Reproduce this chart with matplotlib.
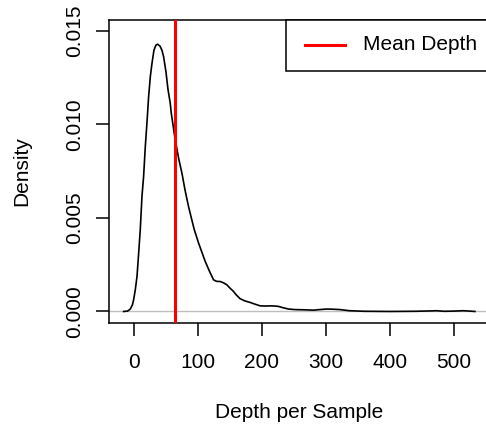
import matplotlib
matplotlib.use("Agg")
import matplotlib.pyplot as plt
from matplotlib.patches import Rectangle
from matplotlib.lines import Line2D

plt.rcParams['font.family'] = ['Liberation Sans', 'DejaVu Sans']

# Density curve
depth = [-16.2, -10.0, -5.8, -2.5, -0.6, 2.0, 4.7, 6.2, 9.8, 12.45, 15.0, 17.66,
         20.2, 22.86, 25.5, 28.1, 31.2, 34.3, 36.9, 40.6, 43.7, 46.3, 50.0, 53.0,
         56.7, 58.3, 64.5, 70.0, 75.0, 80.0, 85.3, 94.0, 101.0, 111.4, 118.0,
         124.4, 129.0, 134.8, 140.0, 145.3, 150.0, 155.6, 160.0, 166.0, 173.0,
         181.7, 190.0, 197.3, 205.0, 213.0, 220.0, 226.0, 233.0, 241.6, 252.0,
         265.0, 280.6, 290.0, 301.5, 312.0, 322.0, 337.0, 360.0, 400.0, 440.0,
         465.0, 473.0, 485.0, 500.0, 514.6, 525.0, 533.0]
density = [0.0, 0.00002, 0.00013, 0.00035, 0.00062, 0.00115, 0.00187, 0.00258,
           0.00436, 0.00614, 0.0072, 0.0088, 0.01005, 0.01147, 0.01254, 0.01325,
           0.01396, 0.01423, 0.01428, 0.01418, 0.01396, 0.01361, 0.0128, 0.0119,
           0.01112, 0.01059, 0.00916, 0.00815, 0.00738, 0.00645, 0.0056, 0.0044,
           0.00365, 0.00267, 0.00215, 0.00169, 0.00161, 0.0016, 0.00153, 0.00142,
           0.00125, 0.00107, 0.00088, 0.00068, 0.00057, 0.00048, 0.00038, 0.0003,
           0.00029, 0.0003, 0.00029, 0.00027, 0.0002, 0.00013, 0.0001, 0.00009,
           0.00007, 0.0001, 0.00013, 0.00012, 0.0001, 0.00004, 0.00001, 0.0,
           0.00001, 0.00003, 0.00004, 0.00001, 0.00002, 0.00004, 0.00002, 0.0]
mean_depth = 64.0
legend_label = "Mean Depth"
x_ticks = [0, 100, 200, 300, 400, 500]
y_ticks = [0.000, 0.005, 0.010, 0.015]
y_tick_labels = ["0.000", "0.005", "0.010", "0.015"]

W, H = 486, 430
fig = plt.figure(figsize=(W / 100, H / 100), dpi=100)
L, R, T, B = 109.3, 489.0, 19.5, 322.7
ax = fig.add_axes([L / W, 1 - B / H, (R - L) / W, (B - T) / H])

FS = 15
ax.axhline(0, color='#BEBEBE', lw=1.0, zorder=1)
ax.plot(depth, density, color='black', lw=1.2, zorder=2, solid_joinstyle='round')
ax.axvline(mean_depth, color='#FF0000', lw=2.2, zorder=3)

ax.set_xlim(-38.6, 555)
ax.set_ylim(-0.0006, 0.0156)
ax.set_xticks(x_ticks)
ax.set_xticklabels([str(t) for t in x_ticks])
ax.set_yticks(y_ticks)
ax.set_yticklabels(y_tick_labels, rotation=90, va='center')
for s in ax.spines.values():
    s.set_linewidth(1.1)
ax.tick_params(axis='both', length=9.2, width=1.1, labelsize=FS, color='black')
ax.tick_params(axis='x', pad=12.5)
ax.tick_params(axis='y', pad=9)

fig.text(299 / W, 1 - 413 / H, "Depth per Sample", ha='center', va='center', fontsize=FS)
fig.text(22 / W, 1 - 171.5 / H, "Density", ha='center', va='center', rotation=90, fontsize=FS)

# Legend box (R style)
def axf(X, Y):
    return ((X - L) / (R - L), (B - Y) / (B - T))

x0, y0 = axf(286, 71)
x1, y1 = axf(495, 19.5)
ax.add_patch(Rectangle((x0, y0), x1 - x0, y1 - y0, transform=ax.transAxes,
                       facecolor='white', edgecolor='black', lw=1.1, clip_on=False, zorder=5))
lx0, ly = axf(305, 45)
lx1, _ = axf(345, 45)
ax.add_line(Line2D([lx0, lx1], [ly, ly], transform=ax.transAxes, color='#FF0000',
                   lw=2.2, clip_on=False, zorder=6))
tx, _ = axf(363.3, 45)
ax.text(tx, ly, legend_label, transform=ax.transAxes, ha='left', va='center',
        fontsize=FS, zorder=6, clip_on=False)

fig.savefig("out.png", dpi=100)
